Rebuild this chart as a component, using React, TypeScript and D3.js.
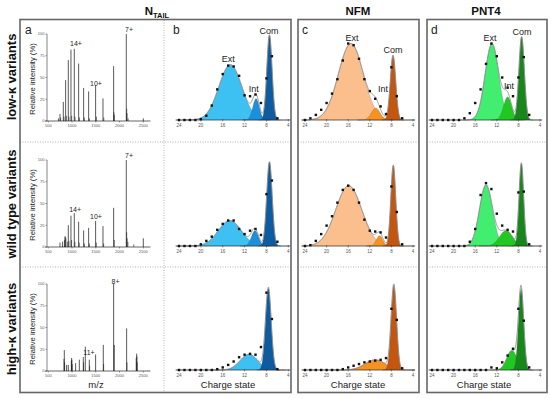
import React from 'react';
import * as d3 from 'd3';

const FONT = '"Liberation Sans", Arial, Helvetica, sans-serif';

// ---- panel a: ESI-MS spectra (m/z, relative intensity %) ----
const lowMz = [716, 746, 816, 865, 921, 977, 1047, 1139, 1244, 1349, 1496, 1651, 1875, 2142, 2500];
const lowInt = [3, 8, 22, 47, 70, 82, 83, 66, 38, 34, 41, 26, 63, 100, 3];
const lowMinorMz = [760, 830, 880, 935, 992, 1062, 1155, 1260, 1365, 1512, 1668, 1882, 1890, 2150, 2158, 2180];
const lowMinorInt = [4, 5, 6, 5, 6, 5, 4, 4, 3, 5, 4, 10, 7, 14, 9, 3];
const lowTags = ['14+', '10+', '7+'];
const lowTagMz = [1083, 1504, 2200];
const lowTagPct = [86, 40, 102];

const wtMz = [746, 800, 858, 921, 977, 1047, 1139, 1244, 1349, 1496, 1651, 1875, 2142, 2500];
const wtInt = [5, 6, 12, 25, 36, 39, 29, 19, 22, 30, 24, 45, 100, 10];
const wtMinorMz = [840, 850, 870, 900, 935, 990, 1060, 1150, 1260, 1365, 1510, 1665, 1890, 2150, 2160, 2175, 2300];
const wtMinorInt = [8, 12, 10, 6, 7, 8, 6, 5, 4, 4, 5, 4, 8, 17, 10, 6, 3];
const wtTags = ['14+', '10+', '7+'];
const wtTagMz = [1065, 1504, 2200];
const wtTagPct = [40, 32, 102];

const hkMz = [837, 886, 921, 991, 1075, 1153, 1237, 1279, 1363, 1496, 1658, 1875, 1889, 2149, 2360];
const hkInt = [24, 7, 7, 15, 9, 13, 16, 28, 13, 19, 30, 100, 30, 49, 20];
const hkMinorMz = [830, 844, 985, 997, 1003, 1244, 1370, 1665, 2156, 2350, 2366, 2372];
const hkMinorInt = [14, 10, 12, 13, 8, 10, 6, 8, 10, 15, 17, 10];
const hkTags = ['8+', '11+'];
const hkTagMz = [1917, 1357];
const hkTagPct = [100, 18];

const mzTicks = [500, 1000, 1500, 2000, 2500];
const pctTicks = [0, 25, 50, 75, 100];

// ---- panels b-d: charge state distributions ----
const charges = [24, 23, 22, 21, 20, 19, 18, 17, 16, 15, 14, 13, 12, 11, 10, 9, 8, 7, 6];
const chargeTicks = [24, 20, 16, 12, 8, 4];
const compNames = ['Ext', 'Int', 'Com'];

// measured points (relative), one per charge state
const ntailLowPts = [0, 0, 0, 0, 0.01, 0.05, 0.17, 0.36, 0.54, 0.64, 0.63, 0.52, 0.29, 0.28, 0.3, 0.2, 0.49, 0.75, 0.02];
const nfmLowPts = [0, 0.02, 0.06, 0.12, 0.2, 0.31, 0.48, 0.7, 0.9, 0.88, 0.72, 0.48, 0.34, 0.25, 0.16, 0.07, 0.62, 0.28, 0.02];
const pnt4LowPts = [0, 0, 0, 0, 0, 0, 0.02, 0.08, 0.2, 0.36, 0.66, 0.9, 0.75, 0.5, 0.38, 0.28, 0.5, 0.74, 0.06];
const ntailWtPts = [0, 0, 0, 0, 0.02, 0.06, 0.11, 0.19, 0.26, 0.3, 0.3, 0.2, 0.14, 0.18, 0.2, 0.13, 0.61, 0.77, 0.05];
const nfmWtPts = [0, 0.01, 0.06, 0.14, 0.24, 0.35, 0.51, 0.66, 0.71, 0.66, 0.51, 0.31, 0.18, 0.17, 0.16, 0.1, 0.7, 0.4, 0.02];
const pnt4WtPts = [0, 0, 0, 0, 0, 0, 0, 0.05, 0.2, 0.6, 0.74, 0.67, 0.38, 0.24, 0.19, 0.17, 0.63, 0.64, 0.02];
const ntailHkPts = [0, 0, 0, 0, 0, 0, 0, 0.01, 0.03, 0.06, 0.1, 0.15, 0.18, 0.19, 0.18, 0.27, 0.91, 0.6, 0.01];
const nfmHkPts = [0, 0, 0, 0, 0, 0, 0, 0.01, 0.03, 0.05, 0.07, 0.09, 0.1, 0.11, 0.12, 0.14, 0.72, 0.59, 0.02];
const pnt4HkPts = [0, 0, 0, 0, 0, 0, 0, 0, 0, 0, 0, 0.03, 0.02, 0.09, 0.17, 0.25, 0.72, 0.58, 0.03];

// gaussian fit components: [centre charge, sigma, height]
const ntailLowFit = [[14.6, 2.1, 0.65], [9.9, 0.6, 0.25], [7.45, 0.48, 1.0]];
const nfmLowFit = [[15.5, 2.3, 0.9], [10.9, 0.8, 0.14], [7.7, 0.5, 0.76]];
const pnt4LowFit = [[12.9, 1.25, 0.9], [10.0, 0.75, 0.27], [7.4, 0.5, 0.98]];
const ntailWtFit = [[14.7, 2.1, 0.3], [10.1, 0.65, 0.18], [7.45, 0.5, 0.99]];
const nfmWtFit = [[15.9, 2.4, 0.71], [10.2, 0.6, 0.12], [7.65, 0.45, 0.95]];
const pnt4WtFit = [[14.0, 1.2, 0.72], [10.3, 1.2, 0.18], [7.45, 0.42, 0.97]];
const ntailHkFit = [[11.2, 1.6, 0.185], [7.65, 0.52, 0.96]];
const nfmHkFit = [[11.0, 1.9, 0.12], [7.55, 0.5, 0.99]];
const pnt4HkFit = [[9.2, 0.95, 0.23], [7.5, 0.48, 0.95]];

// label spots for Ext/Int/Com (top row): [charge, value]
const ntailTagPos = [[15.0, 0.68], [10.3, 0.33], [7.53, 1.01]];
const nfmTagPos = [[15.3, 0.93], [9.56, 0.33], [7.7, 0.79]];
const pnt4TagPos = [[13.26, 0.93], [9.74, 0.36], [7.33, 1.0]];

const blue = ['#3dc0f2', '#1b8fdc', '#0e5c9f'];
const orange = ['#fbbf8d', '#f6921f', '#c4570d'];
const green = ['#42ee70', '#21c822', '#17871b'];

const gauss = (q: number, f: number[]) => f[2] * Math.exp(-((q - f[0]) ** 2) / (2 * f[1] * f[1]));

function Spectrum({ y0, mz, inten, minorMz, minorInt, tags, tagMz, tagPct, showX }: any) {
  const x = d3.scaleLinear().domain([500, 2500]).range([48.3, 143.3]);
  const y = d3.scaleLinear().domain([0, 100]).range([y0, y0 - 87]);
  return (
    <g>
      <line x1={47} x2={47} y1={y(0)} y2={y(100)} stroke="#333" strokeWidth={0.6} />
      <line x1={x(430)} x2={x(2650)} y1={y(0)} y2={y(0)} stroke="#222" strokeWidth={0.7} />
      {pctTicks.map((t) => (
        <g key={t}>
          <line x1={45.5} x2={47} y1={y(t)} y2={y(t)} stroke="#333" strokeWidth={0.5} />
          <text x={44.5} y={y(t) + 1.4} fontSize={4} textAnchor="end" fill="#555">{t}</text>
        </g>
      ))}
      {mzTicks.map((t) => (
        <g key={t}>
          <line x1={x(t)} x2={x(t)} y1={y(0)} y2={y(0) + 1.5} stroke="#333" strokeWidth={0.5} />
          <text x={x(t)} y={y(0) + 6} fontSize={4} textAnchor="middle" fill="#555">{t}</text>
        </g>
      ))}
      {minorMz.map((m: number, i: number) => (
        <line key={'m' + i} x1={x(m)} x2={x(m)} y1={y(0)} y2={y(minorInt[i])} stroke="#111" strokeWidth={0.6} />
      ))}
      {mz.map((m: number, i: number) => (
        <line key={i} x1={x(m)} x2={x(m)} y1={y(0)} y2={y(inten[i])} stroke="#111" strokeWidth={0.7} />
      ))}
      {tags.map((t: string, i: number) => (
        <text key={t} x={x(tagMz[i])} y={y(tagPct[i])} fontSize={7} textAnchor="middle" fill="#222">{t}</text>
      ))}
      <text transform={`translate(35,${y0 - 42}) rotate(-90)`} fontSize={7.6} textAnchor="middle" fill="#222">
        Relative intensity (%)
      </text>
      {showX && <text x={96} y={388} fontSize={9.5} textAnchor="middle" fill="#222">m/z</text>}
    </g>
  );
}

function ChargePanel({ x24, x4, axisY, pts, fits, colors, tagPos }: any) {
  const x = d3.scaleLinear().domain([24, 4]).range([x24, x4]);
  const y = d3.scaleLinear().domain([0, 1]).range([axisY, axisY - 85]);
  const grid = d3.range(24.6, 3.6, -0.04);
  const sumLine = d3.line<number>()
    .x((q) => x(q))
    .y((q) => y(fits.reduce((s: number, f: number[]) => s + gauss(q, f), 0)));
  return (
    <g>
      {fits.map((f: number[], i: number) => {
        const qs = grid.filter((q) => Math.abs(q - f[0]) < 4.2 * f[1]);
        const area = d3.area<number>().x((q) => x(q)).y0(axisY).y1((q) => y(gauss(q, f)));
        return <path key={i} d={area(qs) || ''} fill={colors[i]} stroke="#4a4a4a" strokeOpacity={0.55} strokeWidth={0.4} />;
      })}
      <path d={sumLine(grid) || ''} fill="none" stroke="#8c8c8c" strokeWidth={0.9} />
      <line x1={x(24.6)} x2={x(3.6)} y1={axisY} y2={axisY} stroke="#333" strokeWidth={0.6} />
      {chargeTicks.map((t) => (
        <g key={t}>
          <line x1={x(t)} x2={x(t)} y1={axisY - 1} y2={axisY + 1.5} stroke="#333" strokeWidth={0.5} />
          <text x={x(t)} y={axisY + 7} fontSize={4.5} textAnchor="middle" fill="#555">{t}</text>
        </g>
      ))}
      {pts.map((v: number, i: number) => (
        <rect key={i} x={x(charges[i]) - 1.2} y={y(v) - 1.2} width={2.4} height={2.4} fill="#111" />
      ))}
      {tagPos && tagPos.map((p: number[], i: number) =>
        i < fits.length ? (
          <text key={i} x={x(p[0])} y={y(p[1])} fontSize={9} textAnchor="middle" fill="#222">
            {fits.length === 3 ? compNames[i] : compNames[i === 0 ? 0 : 2]}
          </text>
        ) : null
      )}
    </g>
  );
}

export default function App() {
  const rowsY = [120, 246, 370];
  const cols = [
    { x24: 179, x4: 288.3 },
    { x24: 305, x4: 413 },
    { x24: 432, x4: 540 },
  ];
  const panels = [
    [ntailLowPts, ntailLowFit, blue, ntailTagPos],
    [nfmLowPts, nfmLowFit, orange, nfmTagPos],
    [pnt4LowPts, pnt4LowFit, green, pnt4TagPos],
    [ntailWtPts, ntailWtFit, blue, null],
    [nfmWtPts, nfmWtFit, orange, null],
    [pnt4WtPts, pnt4WtFit, green, null],
    [ntailHkPts, ntailHkFit, [blue[0], blue[2]], null],
    [nfmHkPts, nfmHkFit, [orange[1], orange[2]], null],
    [pnt4HkPts, pnt4HkFit, [green[1], green[2]], null],
  ];
  const frames = [
    { x: 20, w: 271 },
    { x: 298, w: 121 },
    { x: 427, w: 120 },
  ];
  const dot = { stroke: '#a0a0a0', strokeWidth: 0.8, strokeDasharray: '1,1.5' };

  return (
    <svg width={550} height={399} style={{ position: 'absolute', left: 0, top: 0, background: '#fff' }} fontFamily={FONT}>
      {/* column titles */}
      <text x={157} y={15} fontSize={11.5} fontWeight="bold" textAnchor="middle" fill="#111">
        N<tspan fontSize={7.5} dy={2.5}>TAIL</tspan>
      </text>
      <text x={358} y={15} fontSize={11.5} fontWeight="bold" textAnchor="middle" fill="#111">NFM</text>
      <text x={486} y={15} fontSize={11.5} fontWeight="bold" textAnchor="middle" fill="#111">PNT4</text>

      {/* row titles */}
      {['low-κ variants', 'wild type variants', 'high-κ variants'].map((t, i) => (
        <text key={t} transform={`translate(15.5,${[77, 204, 329][i]}) rotate(-90)`} fontSize={13} fontWeight="bold" textAnchor="middle" fill="#111">
          {t}
        </text>
      ))}

      {/* dotted grid inside frames */}
      <line x1={164} x2={164} y1={20} y2={392} {...dot} />
      {[142, 267].map((yy) =>
        frames.map((f, i) => <line key={yy + '-' + i} x1={f.x} x2={f.x + f.w} y1={yy} y2={yy} {...dot} />)
      )}

      <Spectrum y0={121} mz={lowMz} inten={lowInt} minorMz={lowMinorMz} minorInt={lowMinorInt} tags={lowTags} tagMz={lowTagMz} tagPct={lowTagPct} />
      <Spectrum y0={247} mz={wtMz} inten={wtInt} minorMz={wtMinorMz} minorInt={wtMinorInt} tags={wtTags} tagMz={wtTagMz} tagPct={wtTagPct} />
      <Spectrum y0={371} mz={hkMz} inten={hkInt} minorMz={hkMinorMz} minorInt={hkMinorInt} tags={hkTags} tagMz={hkTagMz} tagPct={hkTagPct} showX />

      {panels.map((p, k) => (
        <ChargePanel key={k} {...cols[k % 3]} axisY={rowsY[Math.floor(k / 3)]} pts={p[0]} fits={p[1]} colors={p[2]} tagPos={p[3]} />
      ))}

      {/* x titles */}
      {[228, 358, 484].map((cx) => (
        <text key={cx} x={cx} y={388} fontSize={9.5} textAnchor="middle" fill="#222">Charge state</text>
      ))}

      {/* panel letters */}
      {['a', 'b', 'c', 'd'].map((l, i) => (
        <text key={l} x={[25, 173, 302, 431][i]} y={34} fontSize={12} fill="#222">{l}</text>
      ))}

      {/* frames */}
      {frames.map((f, i) => (
        <rect key={i} x={f.x} y={19.5} width={f.w} height={373} fill="none" stroke="#666" strokeWidth={1.6} />
      ))}
    </svg>
  );
}
